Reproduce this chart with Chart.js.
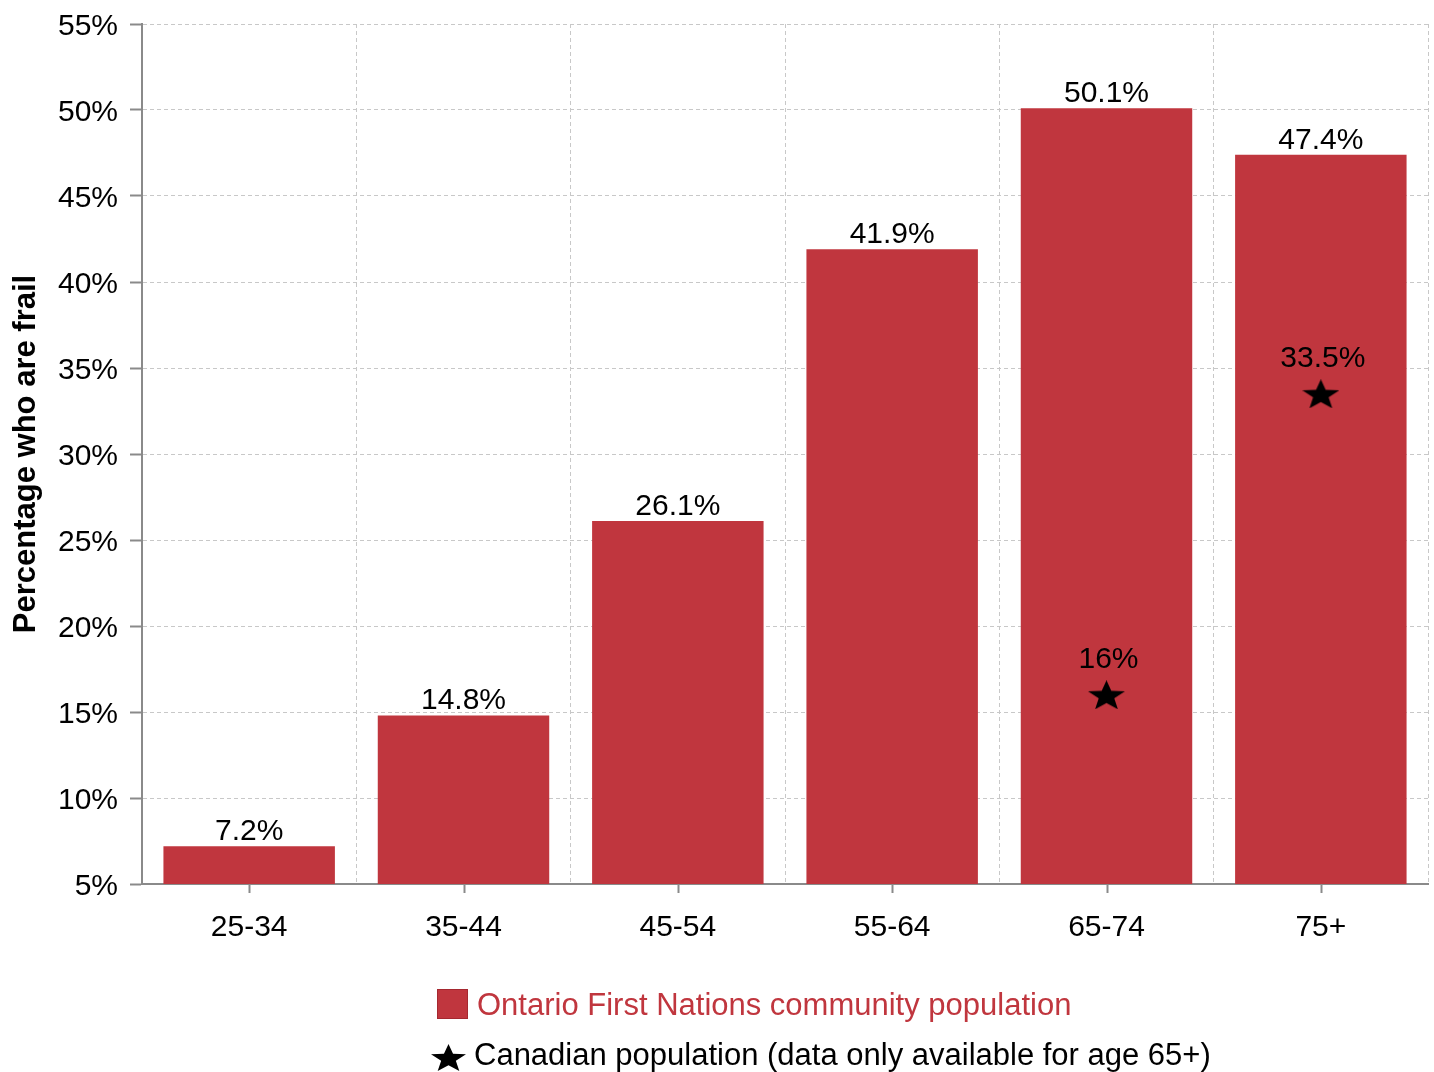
<!DOCTYPE html>
<html>
<head>
<meta charset="utf-8">
<script src="https://cdn.jsdelivr.net/npm/chart.js@4/dist/chart.umd.min.js"></script>
<style>
  html, body { margin: 0; padding: 0; background: #ffffff; }
  #wrap { width: 1434px; height: 1072px; position: relative; }
</style>
</head>
<body>
<div id="wrap"><canvas id="frailty" width="1434" height="1072"></canvas></div>
<script>
// Age groups and frailty prevalence
const ageGroups = ['25-34', '35-44', '45-54', '55-64', '65-74', '75+'];
const firstNationsPct = [7.2, 14.8, 26.1, 41.9, 50.1, 47.4];
const canadianPct = [null, null, null, null, 16, 33.5];
const yTicks = [5, 10, 15, 20, 25, 30, 35, 40, 45, 50, 55];

const BAR_RED = 'rgb(192, 54, 62)';
const FONT = '"Liberation Sans", Arial, sans-serif';

// Filled five-pointed star used as the point marker
function makeStar(w, h) {
  const c = document.createElement('canvas');
  c.width = w; c.height = h;
  const g = c.getContext('2d');
  const R = w / (2 * Math.sin(2 * Math.PI / 5));
  const r = R * 0.42;
  const sy = h / (R * (1 + Math.cos(Math.PI / 5)));
  g.fillStyle = '#000';
  g.beginPath();
  for (let i = 0; i < 10; i++) {
    const rad = i % 2 === 0 ? R : r;
    const a = -Math.PI / 2 + i * Math.PI / 5;
    const x = w / 2 + rad * Math.cos(a);
    const y = R * sy + rad * Math.sin(a) * sy;
    if (i === 0) g.moveTo(x, y); else g.lineTo(x, y);
  }
  g.closePath();
  g.fill();
  return c;
}
const starMarker = makeStar(37, 29);
const legendStar = makeStar(35, 27);

// Value labels above bars and above stars, x-axis tick marks at category centres, legend
const decorations = {
  id: 'decorations',
  afterDatasetsDraw(chart) {
    const ctx = chart.ctx;
    ctx.save();
    ctx.font = '30px ' + FONT;
    ctx.fillStyle = '#000';
    ctx.textAlign = 'center';
    ctx.textBaseline = 'alphabetic';
    const barMeta = chart.getDatasetMeta(1);
    barMeta.data.forEach((el, i) => {
      ctx.fillText(firstNationsPct[i] + '%', el.x, el.y - 6);
    });
    const starMeta = chart.getDatasetMeta(0);
    starMeta.data.forEach((el, i) => {
      if (canadianPct[i] === null) return;
      ctx.fillText(canadianPct[i] + '%', el.x + 2, el.y - 27);
    });

    // tick marks under the x axis
    const xs = chart.scales.x;
    ctx.strokeStyle = '#8a8a8a';
    ctx.lineWidth = 2;
    ageGroups.forEach((_, i) => {
      const x = Math.round(xs.getPixelForValue(i)) + 0.5;
      ctx.beginPath();
      ctx.moveTo(x, xs.top);
      ctx.lineTo(x, xs.top + 9);
      ctx.stroke();
    });

    // legend
    ctx.font = '31px ' + FONT;
    ctx.textAlign = 'left';
    ctx.textBaseline = 'middle';
    ctx.fillStyle = BAR_RED;
    ctx.fillRect(437, 989, 31, 30);
    ctx.strokeStyle = 'rgb(165, 40, 48)';
    ctx.lineWidth = 1;
    ctx.strokeRect(437.5, 989.5, 30, 29);
    ctx.fillStyle = BAR_RED;
    ctx.fillText('Ontario First Nations community population', 477, 1006);
    ctx.drawImage(legendStar, 431, 1044);
    ctx.fillStyle = '#000';
    ctx.fillText('Canadian population (data only available for age 65+)', 474, 1056);
    ctx.restore();
  }
};

new Chart(document.getElementById('frailty'), {
  data: {
    labels: ageGroups,
    datasets: [
      {
        type: 'line',
        label: 'Canadian population (data only available for age 65+)',
        data: canadianPct,
        showLine: false,
        pointStyle: starMarker,
        order: 0
      },
      {
        type: 'bar',
        label: 'Ontario First Nations community population',
        data: firstNationsPct,
        backgroundColor: BAR_RED,
        borderWidth: 0,
        barPercentage: 1.0,
        categoryPercentage: 0.8,
        order: 1
      }
    ]
  },
  options: {
    responsive: false,
    animation: false,
    devicePixelRatio: 1,
    layout: { padding: { left: 0, top: 24, right: 6, bottom: 118 } },
    plugins: {
      legend: { display: false },
      tooltip: { enabled: false }
    },
    scales: {
      x: {
        type: 'category',
        offset: true,
        grid: {
          offset: true,
          drawTicks: false,
          color: '#c8c8c8',
          lineWidth: 1
        },
        border: { display: true, color: '#8a8a8a', width: 2, dash: [4, 3] },
        ticks: {
          color: '#000',
          font: { family: FONT, size: 30 },
          padding: 26,
          maxRotation: 0
        },
        afterFit(s) { s.height = 70; }
      },
      y: {
        min: 5,
        max: 55,
        afterBuildTicks(s) { s.ticks = yTicks.map(v => ({ value: v })); },
        grid: {
          color: '#c8c8c8',
          lineWidth: 1,
          tickColor: '#8a8a8a',
          tickWidth: 2,
          tickLength: 12,
          tickBorderDash: []
        },
        border: { display: true, color: '#8a8a8a', width: 2, dash: [4, 3] },
        ticks: {
          color: '#000',
          font: { family: FONT, size: 30 },
          padding: 12,
          labelOffset: 3,
          callback: v => v + '%'
        },
        title: {
          display: true,
          text: 'Percentage who are frail',
          color: '#000',
          font: { family: FONT, size: 31, weight: 'bold' },
          padding: { top: 8, bottom: 0 }
        },
        afterFit(s) {
          s.width = 142;
          s.paddingTop = 0;
          s.paddingBottom = 0;
        }
      }
    }
  },
  plugins: [decorations]
});
</script>
</body>
</html>
